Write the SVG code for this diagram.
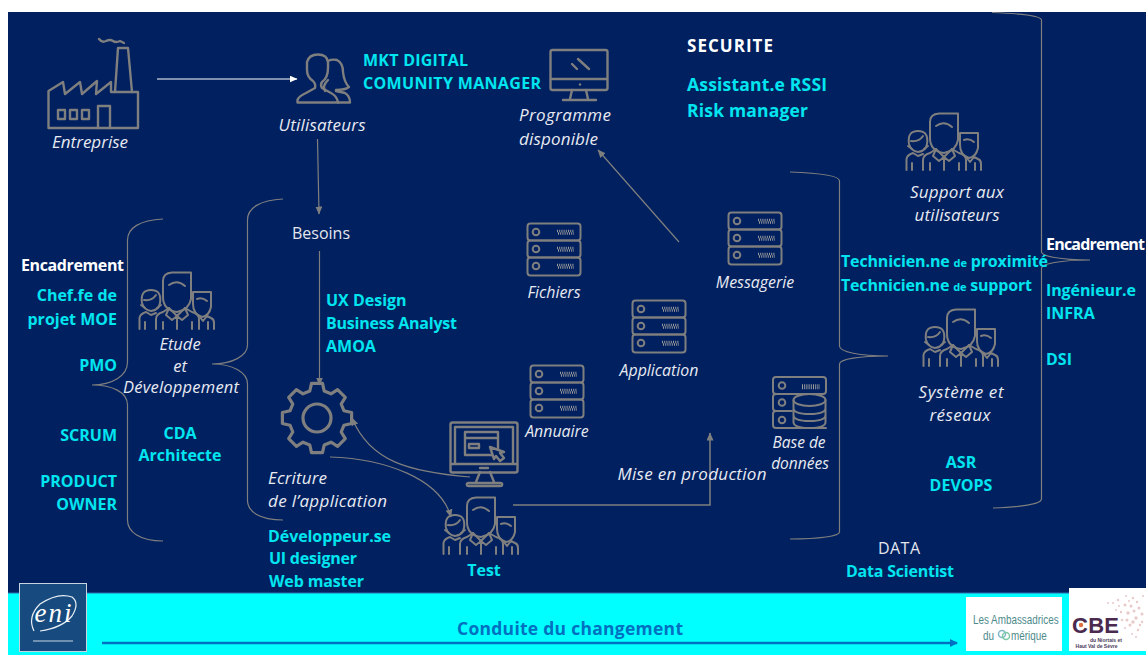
<svg xmlns="http://www.w3.org/2000/svg" width="1146" height="655" viewBox="0 0 1146 655">
<style>
text{font-family:"Open Sans","Noto Sans","Liberation Sans",sans-serif}
.c{fill:#00e5f0;font-weight:700;font-size:16px}
.w{fill:#fff;font-weight:700;font-size:16px}
.i{fill:#e8eaf2;font-style:italic;font-size:17px}
.i2{fill:#e8eaf2;font-style:italic;font-size:15.900px}
.n{fill:#e4e6ee;font-size:16px}
.s{fill:none;stroke:#7f7f7f;stroke-width:2.400;stroke-linejoin:round;stroke-linecap:round}
.t{fill:none;stroke:#7f7f7f;stroke-width:2;stroke-linejoin:round;stroke-linecap:round}
.l{fill:none;stroke:#7f7f7f;stroke-width:1.200}
.m{text-anchor:middle}
.e{text-anchor:end}
.d{fill:none;stroke:#9a9a9a;stroke-width:2.500;stroke-dasharray:1 1.200}
.a{fill:#4e8a8c;font-size:13px;font-family:"Liberation Sans",sans-serif}
</style>
<defs>
<marker id="ag" markerWidth="9" markerHeight="9" refX="7.500" refY="3.500" orient="auto" markerUnits="userSpaceOnUse"><path d="M0,0L8,3.500L0,7Z" fill="#7f7f7f"/></marker>
<marker id="aw" markerWidth="9" markerHeight="9" refX="7.500" refY="3.500" orient="auto" markerUnits="userSpaceOnUse"><path d="M0,0L8,3.500L0,7Z" fill="#fff"/></marker>
<marker id="ab" markerWidth="9" markerHeight="9" refX="7" refY="4" orient="auto" markerUnits="userSpaceOnUse"><path d="M0,0L8,4L0,8Z" fill="#0070c0"/></marker>
<symbol id="trio" viewBox="0 0 76 58" width="76" height="58" overflow="visible">
<g class="t">
<path d="M24,9Q24,1 33,0.500H52V27Q50,38 38,40Q24,38 24,25Z"/>
<path d="M30,13Q38,7 46,14"/>
<path d="M17,57V47Q17,42 24,40L30,36L38,44L46,36L53,40Q60,42 60,47V57"/>
<path d="M30,36L27,43L33,48L38,44L43,48L49,43L46,36M38,44V57M24,50V57M53,50V57"/>
<path d="M3,31Q1,18 12,18Q23,18 21,31Q20,38 12,39Q5,38 3,31Z"/>
<path d="M5,28Q13,29 17,23M2,33L6,36M22,33L18,36"/>
<path d="M0.500,57V46Q1,42 7,40L12,43L17,41M6,50V57"/>
<path d="M54,20H72V35Q70,44 63,45Q54,42 54,32Z"/>
<path d="M58,27Q63,25 68,29"/>
<path d="M60,44L64,49L68,44L72,46Q75,47 75,51V57M69,50V57"/>
</g>
</symbol>
<symbol id="srv" viewBox="0 0 54 53" width="54" height="53" overflow="visible">
<g class="t">
<rect x="0.500" y="0.500" width="53" height="17" rx="3"/>
<rect x="0.500" y="17.500" width="53" height="17" rx="3"/>
<rect x="0.500" y="34.500" width="53" height="18" rx="3"/>
<circle cx="9" cy="9" r="3.300"/><circle cx="9" cy="26" r="3.300"/><circle cx="9" cy="43" r="3.300"/>
</g>
<path class="d" d="M30,8H47M31,10.500H47M30,25H47M31,27.500H47M30,42H47M31,44.500H47"/>
</symbol>
</defs>

<rect width="1146" height="655" fill="#fff"/>
<rect x="8" y="12" width="1138" height="581" fill="#00205f"/>
<rect x="8" y="593" width="1138" height="62" fill="#00ffff"/>
<path d="M8,593H1146" stroke="#2f6fb0" stroke-width="1"/>

<g id="connectors">
<path d="M157,79H297" fill="none" stroke="#fff" stroke-width="1.200" marker-end="url(#aw)"/>
<path d="M317.500,139L319,214" class="l" marker-end="url(#ag)"/>
<path d="M319.500,251V385" class="l" marker-end="url(#ag)"/>
<path d="M470,477C410,472 370,462 352,418" class="l" marker-end="url(#ag)"/>
<path d="M330,457C385,459 440,478 451,517" class="l" marker-end="url(#ag)"/>
<path d="M513,505H710V433" class="l" style="stroke-width:1.500" marker-end="url(#ag)"/>
<path d="M679,242L598,150" class="l" marker-end="url(#ag)"/>
<path d="M102,643H957" fill="none" stroke="#0070c0" stroke-width="2.500" marker-end="url(#ab)"/>
</g>

<g id="braces" class="l">
<path d="M163,219C140,220 127.500,228 127.500,240V362C127.500,376 112,385 92,385C112,385 127.500,392 127.500,405V520C127.500,532 140,541 163,541"/>
<path d="M283,199C260,200 247.500,208 247.500,220V345C247.500,356 232,364 212,364C232,364 247.500,372 247.500,384V500C247.500,512 260,520 283,520"/>
<path d="M790,172C820,173 839.500,176 839.500,181V346C839.500,352 860,356 888,356C860,356 839.500,359 839.500,364V532C839.500,536 820,539 790,539"/>
<path d="M992,12.500C1020,13.500 1041.500,16 1041.500,20V252C1041.500,256 1060,260 1090,260C1060,260 1041.500,264 1041.500,268V499C1041.500,504 1020,507 993,508"/>
</g>

<g id="entreprise">
<g class="s">
<path d="M48.500,128V91L63,82L65,94L80,82L82,94L97,81L96,94L111,82V92H138V128Z"/>
<path d="M115,92L118,48H128L132,92"/>
<path d="M98,128V106H110V128"/>
<rect x="58" y="110" width="7" height="9"/><rect x="70" y="110" width="7" height="9"/><rect x="82" y="110" width="7" height="9"/>
<path d="M99,39Q102,43 106,41T113,41T120,41L124,43"/>
</g>
<text class="i m" x="90" y="148" style="font-size:17px">Entreprise</text>
</g>

<g id="utilisateurs">
<g class="s">
<path d="M297.500,102.500V100Q299,96 306,93L315,88Q316,84 313,81Q307,77 307,70V62Q309,54.500 318,54.500Q327,54.500 328,62V68Q328,78 322,82Q320,85 322,88L331,93Q337,96 338,102.500Z"/>
<path d="M328,61Q332,59 337,60Q343,63 343,72Q344,82 349,87Q345,90 336,90M336,91L345,93Q350,96 350,102.500H338M328,80Q322,86 325,91"/>
</g>
<text class="i m" x="322" y="131" textLength="87">Utilisateurs</text>
<text class="c" x="363" y="66" textLength="105">MKT DIGITAL</text>
<text class="c" x="363" y="89" textLength="178">COMUNITY MANAGER</text>
</g>

<g id="programme">
<g class="s">
<rect x="550.500" y="50" width="57" height="40" rx="2"/>
<path d="M551,79H607M572,90L570,99M586,90L588,99M563,100H596"/>
<path d="M578,59L589,69M572,64L577,69"/>
</g>
<circle cx="580" cy="84.500" r="1.200" fill="#7f7f7f"/>
<text class="i" x="519" y="121" textLength="92">Programme</text>
<text class="i" x="519" y="145" textLength="79">disponible</text>
</g>

<g id="securite">
<text class="w" x="687" y="52" style="font-size:17px" textLength="86">SECURITE</text>
<text class="c" x="687" y="91" style="font-size:17.500px" textLength="140">Assistant.e RSSI</text>
<text class="c" x="687" y="117" style="font-size:17.500px" textLength="121">Risk manager</text>
</g>

<g id="besoins"><text class="n m" x="321" y="239" textLength="58">Besoins</text></g>

<g id="encadrement-gauche">
<text class="w" x="21" y="271" textLength="103">Encadrement</text>
<text class="c e" x="117" y="301">Chef.fe de</text>
<text class="c e" x="117" y="325">projet MOE</text>
<text class="c e" x="117" y="371">PMO</text>
<text class="c e" x="117" y="441">SCRUM</text>
<text class="c e" x="117" y="487">PRODUCT</text>
<text class="c e" x="117" y="510">OWNER</text>
</g>

<g id="etude">
<use href="#trio" x="139" y="272"/>
<text class="i m" x="180" y="350" style="font-size:16.500px">Etude</text>
<text class="i m" x="180" y="372" style="font-size:16.500px">et</text>
<text class="i m" x="181" y="393" style="font-size:16.500px" textLength="116">Développement</text>
<text class="c m" x="180" y="439">CDA</text>
<text class="c m" x="180" y="461">Architecte</text>
</g>

<g id="ecriture">
<text class="c" x="326" y="306">UX Design</text>
<text class="c" x="326" y="329" textLength="131">Business Analyst</text>
<text class="c" x="326" y="352">AMOA</text>
<g transform="translate(317,418)" class="s" style="stroke-width:3.200">
<path d="M-5.500,-34.600L5.500,-34.600L7.200,-27L14,-24.200L20.600,-28.300L28.300,-20.600L24.200,-14L27,-7.200L34.600,-5.500L34.600,5.500L27,7.200L24.200,14L28.300,20.600L20.600,28.300L14,24.200L7.200,27L5.500,34.600L-5.500,34.600L-7.200,27L-14,24.200L-20.600,28.300L-28.300,20.600L-24.200,14L-27,7.200L-34.600,5.500L-34.600,-5.500L-27,-7.200L-24.200,-14L-28.300,-20.600L-20.600,-28.300L-14,-24.200L-7.200,-27Z"/>
<circle r="14"/>
</g>
<text class="i" x="268" y="484" textLength="59">Ecriture</text>
<text class="i" x="268" y="507" textLength="119">de l’application</text>
<text class="c" x="268" y="542" textLength="123">Développeur.se</text>
<text class="c" x="269" y="564" textLength="88">UI designer</text>
<text class="c" x="269" y="587" textLength="95">Web master</text>
</g>

<g id="test">
<g class="s">
<rect x="450.500" y="422.500" width="67" height="50" rx="2"/>
<path d="M451,464H517M455,464V427H513V464"/>
<rect x="465" y="432" width="33" height="23"/>
<path d="M465,438H498"/>
<rect x="469" y="444" width="10" height="4"/>
<path d="M490,447L494,459L496,456L500,461L504,458L500,453L504,452Z" fill="#00205f"/>
<path d="M480,472L476,482M490,472L494,482M467,485Q466,483 469,483H500Q503,483 502,485Q502,486 500,486H469Q467,486 467,485Z"/>
<path d="M480,468H488"/>
</g>
<use href="#trio" x="443" y="497"/>
<text class="c m" x="484" y="576">Test</text>
</g>

<g id="fichiers"><use href="#srv" x="527" y="223"/><text class="i2 m" x="554" y="298">Fichiers</text></g>
<g id="messagerie"><use href="#srv" x="728" y="212"/><text class="i2 m" x="755" y="288">Messagerie</text></g>
<g id="application"><use href="#srv" x="632" y="300"/><text class="i2 m" x="659" y="376">Application</text></g>
<g id="annuaire"><use href="#srv" x="530" y="365"/><text class="i2 m" x="557" y="437">Annuaire</text></g>

<g id="base">
<g class="t">
<rect x="773" y="377" width="53" height="17" rx="3"/>
<path d="M793,394H776Q773,394 773,397V408Q773,411 776,411H792M792,411H776Q773,411 773,414V425Q773,428 776,428H826"/>
<circle cx="782" cy="385.500" r="3.300"/><circle cx="782" cy="402.500" r="3.300"/><circle cx="782" cy="420" r="3.300"/>
<ellipse cx="809.500" cy="400" rx="16" ry="6" fill="#00205f"/>
<path d="M793.500,400V422Q793.500,428 809.500,428Q825.500,428 825.500,422V400M793.500,408Q793.500,414 809.500,414Q825.500,414 825.500,408M793.500,415Q793.500,421 809.500,421Q825.500,421 825.500,415"/>
</g>
<path class="d" d="M802,385.500H820M802,388H820"/>
<text class="i m" x="799" y="448" style="font-size:15.500px">Base de</text>
<text class="i m" x="800" y="469" style="font-size:15.500px">données</text>
</g>

<g id="mise"><text class="i m" x="692" y="480" textLength="149">Mise en production</text></g>

<g id="support">
<use href="#trio" x="906" y="113"/>
<text class="i m" x="957" y="198" textLength="94">Support aux</text>
<text class="i m" x="957" y="221" textLength="85">utilisateurs</text>
<text class="c" x="841" y="267" textLength="207">Technicien.ne <tspan style="font-size:11px">de</tspan> proximité</text>
<text class="c" x="841" y="291" textLength="191">Technicien.ne <tspan style="font-size:11px">de</tspan> support</text>
</g>

<g id="systeme">
<use href="#trio" x="923" y="309"/>
<text class="i m" x="961" y="398" textLength="85">Système et</text>
<text class="i m" x="960" y="421" textLength="61">réseaux</text>
<text class="c m" x="961" y="468">ASR</text>
<text class="c m" x="961" y="491">DEVOPS</text>
</g>

<g id="encadrement-droite">
<text class="w" x="1046" y="250" textLength="99">Encadrement</text>
<text class="c" x="1046" y="296" textLength="90">Ingénieur.e</text>
<text class="c" x="1046" y="319">INFRA</text>
<text class="c" x="1046" y="365">DSI</text>
</g>

<g id="data">
<text class="n m" x="899" y="554" textLength="42">DATA</text>
<text class="c m" x="900" y="577" textLength="108">Data Scientist</text>
</g>

<g id="conduite">
<text x="570" y="635" text-anchor="middle" fill="#0070c0" style="font-size:17.500px;font-weight:700" textLength="226">Conduite du changement</text>
</g>

<g id="logo-eni">
<rect x="19.500" y="583.500" width="67" height="68" fill="#174a7e" stroke="#c8d4e0" stroke-width="1"/>
<path d="M34,631Q27,617 40,604Q58,592 72,597Q80,603 72,616Q62,628 40,631" fill="none" stroke="#e8eef5" stroke-width="1.200"/>
<text x="54" y="622" text-anchor="middle" fill="#fff" style="font-family:'Liberation Serif',serif;font-style:italic;font-size:27px;letter-spacing:2px">eni</text>
<path d="M33,641H73" stroke="#8fa8c4" stroke-width="1.500"/>
</g>

<g id="logo-ambassadrices">
<rect x="966" y="597" width="96" height="54" fill="#fff"/>
<text class="a" transform="translate(973,624) scale(.76,1)">Les Ambassadrices</text>
<text class="a" transform="translate(983,640) scale(.76,1)">du</text>
<circle cx="1002" cy="634" r="3.500" fill="none" stroke="#7fb8c8" stroke-width="1.500"/>
<circle cx="1006" cy="636" r="3.500" fill="none" stroke="#7fc8a8" stroke-width="1.500"/>
<text class="a" transform="translate(1011,640) scale(.76,1)">mérique</text>
</g>

<g id="logo-cbe">
<rect x="1069" y="588" width="77" height="63" fill="#fff"/>
<g fill="#d9a9a5" opacity=".6">
<circle cx="1118" cy="600" r="1.200"/><circle cx="1125" cy="605" r="1.500"/><circle cx="1133" cy="598" r="1.200"/><circle cx="1139" cy="608" r="1.500"/><circle cx="1128" cy="613" r="1.700"/><circle cx="1136" cy="618" r="1.700"/><circle cx="1142" cy="622" r="1.200"/><circle cx="1122" cy="620" r="1.200"/><circle cx="1130" cy="625" r="1.500"/><circle cx="1138" cy="630" r="1.200"/><circle cx="1116" cy="610" r="1"/><circle cx="1143" cy="596" r="1"/><circle cx="1132" cy="634" r="1"/><circle cx="1108" cy="603" r="1"/>
<circle cx="1121" cy="612" r="1.200"/><circle cx="1126" cy="596" r="1"/><circle cx="1131" cy="606" r="1.500"/><circle cx="1137" cy="602" r="1.200"/><circle cx="1142" cy="614" r="1.500"/><circle cx="1134" cy="611" r="1.500"/><circle cx="1127" cy="620" r="1.500"/><circle cx="1140" cy="625" r="1.200"/><circle cx="1133" cy="622" r="1.700"/><circle cx="1125" cy="628" r="1"/><circle cx="1136" cy="637" r="1"/><circle cx="1113" cy="603" r="1"/><circle cx="1119" cy="606" r="1"/><circle cx="1129" cy="601" r="1"/>
</g>
<text x="1072" y="633" fill="#4a2a4e" style="font-size:22px;font-weight:700;font-family:'Liberation Sans',sans-serif" textLength="47">CBE</text>
<circle cx="1081" cy="625" r="2.200" fill="#e07040"/>
<text x="1106" y="641.500" text-anchor="middle" fill="#4a3a5a" style="font-size:5px;font-weight:700;font-family:'Liberation Sans',sans-serif">du Niortais et</text>
<text x="1096.500" y="648" text-anchor="middle" fill="#4a3a5a" style="font-size:5px;font-weight:700;font-family:'Liberation Sans',sans-serif">Haut Val de Sèvre</text>
</g>
</svg>
